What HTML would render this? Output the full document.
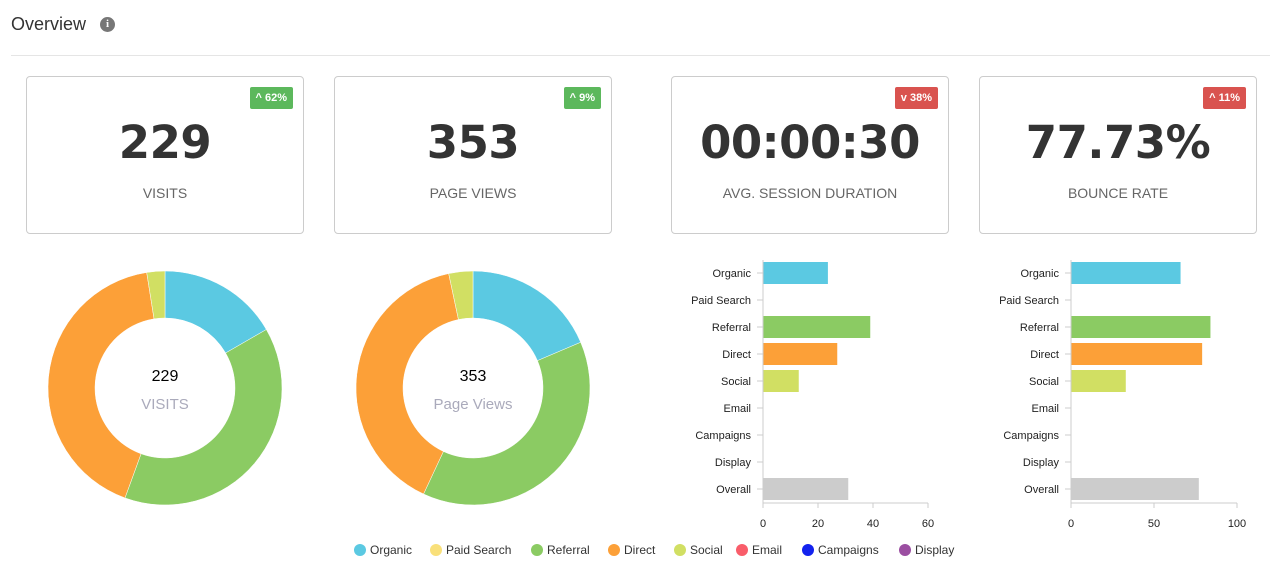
<!DOCTYPE html><html><head><style>
body{margin:0;width:1279px;height:578px;background:#fff;font-family:"Liberation Sans",sans-serif;position:relative;overflow:hidden}
.t{position:absolute;left:11px;top:14px;font-size:18px;color:#333}
.i{position:absolute;left:100px;top:17px;width:15px;height:15px;border-radius:50%;background:#777;color:#fff;font:bold 11px "Liberation Serif",serif;text-align:center;line-height:15px}
.hr{position:absolute;left:11px;right:9px;top:55px;border-top:1px solid #e5e5e5}
.c{position:absolute;top:76px;height:156px;border:1px solid #ccc;border-radius:4px;text-align:center}
.n{position:absolute;top:116px;font:bold 45px "DejaVu Sans",sans-serif;color:#333;text-align:center;letter-spacing:-0.5px}
.l{position:absolute;left:0;right:0;top:108px;font-size:14px;color:#666}
.b{position:absolute;top:10px;right:10px;height:22px;line-height:22px;padding:0 6px;border-radius:2px;color:#fff;font-size:11px;font-weight:bold}
.g{background:#5cb85c}.r{background:#d9534f}
</style></head><body>
<div class="t">Overview</div><div class="i">i</div><div class="hr"></div>
<div class="c" style="left:26px;width:276px"><div class="b g">^ 62%</div><div class="l">VISITS</div></div>
<div class="c" style="left:334px;width:276px"><div class="b g">^ 9%</div><div class="l">PAGE VIEWS</div></div>
<div class="c" style="left:671px;width:276px"><div class="b r">v 38%</div><div class="l">AVG. SESSION DURATION</div></div>
<div class="c" style="left:979px;width:276px"><div class="b r">^ 11%</div><div class="l">BOUNCE RATE</div></div>
<div class="n" style="left:26px;width:278px">229</div>
<div class="n" style="left:334px;width:278px">353</div>
<div class="n" style="left:671px;width:278px">00:00:30</div>
<div class="n" style="left:979px;width:278px">77.73%</div>
<svg width="1279" height="578" style="position:absolute;left:0;top:0" font-family="Liberation Sans,sans-serif">
<g id="d1"></g>
<text x="165" y="381" text-anchor="middle" font-size="16" fill="#000">229</text>
<text x="165" y="409" text-anchor="middle" font-size="15" fill="#aab">VISITS</text>
<text x="473" y="381" text-anchor="middle" font-size="16" fill="#000">353</text>
<text x="473" y="409" text-anchor="middle" font-size="15" fill="#aab">Page Views</text>
<g id="bars" font-size="11" fill="#222"></g>
<g font-size="12" fill="#333">
<circle cx="360" cy="550" r="6" fill="#5bc9e2"/><text x="370" y="554">Organic</text>
<circle cx="436" cy="550" r="6" fill="#f9e07a"/><text x="446" y="554">Paid Search</text>
<circle cx="537" cy="550" r="6" fill="#8bcb63"/><text x="547" y="554">Referral</text>
<circle cx="614" cy="550" r="6" fill="#fca038"/><text x="624" y="554">Direct</text>
<circle cx="680" cy="550" r="6" fill="#d1df63"/><text x="690" y="554">Social</text>
<circle cx="742" cy="550" r="6" fill="#f95d6a"/><text x="752" y="554">Email</text>
<circle cx="808" cy="550" r="6" fill="#1322ee"/><text x="818" y="554">Campaigns</text>
<circle cx="905" cy="550" r="6" fill="#9b4ea1"/><text x="915" y="554">Display</text>
</g>
</svg>
<script>
const NS="http://www.w3.org/2000/svg";
function arc(cx,cy,R,r,a0,a1,col){const f=a=>[Math.sin(a*Math.PI/180),-Math.cos(a*Math.PI/180)];const [s0,c0]=f(a0),[s1,c1]=f(a1);const lg=a1-a0>180?1:0;
const d=`M${cx+R*s0},${cy+R*c0}A${R},${R} 0 ${lg} 1 ${cx+R*s1},${cy+R*c1}L${cx+r*s1},${cy+r*c1}A${r},${r} 0 ${lg} 0 ${cx+r*s0},${cy+r*c0}Z`;
const p=document.createElementNS(NS,"path");p.setAttribute("d",d);p.setAttribute("fill",col);p.setAttribute("stroke","#fff");p.setAttribute("stroke-width","0.5");document.getElementById("d1").appendChild(p);}
const C=["#5bc9e2","#8bcb63","#fca038","#d1df63"];
[[165,[0,60,200,351,360]],[473,[0,67,205,348,360]]].forEach(([cx,a])=>{for(let i=0;i<4;i++)arc(cx,388,117,70,a[i],a[i+1],C[i]);});
const labs=["Organic","Paid Search","Referral","Direct","Social","Email","Campaigns","Display","Overall"];
const bc=["#5bc9e2","","#8bcb63","#fca038","#d1df63","","","","#ccc"];
const g=document.getElementById("bars");let h="";
[[763,2.75,[23.6,0,39,27,13,0,0,0,31],[0,20,40,60]],[1071,1.66,[66,0,84,79,33,0,0,0,77],[0,50,100]]].forEach(([x0,k,v,t])=>{
labs.forEach((l,i)=>{const y=273+27*i;h+=`<text x="${x0-12}" y="${y+4}" text-anchor="end">${l}</text><line x1="${x0-6}" x2="${x0}" y1="${y}" y2="${y}" stroke="#ccc"/>`;
if(v[i])h+=`<rect x="${x0}" y="${y-11}" width="${v[i]*k}" height="22" fill="${bc[i]}"/>`;});
h+=`<line x1="${x0}" x2="${x0}" y1="260" y2="503" stroke="#ccc"/><line x1="${x0}" x2="${x0+t[t.length-1]*k}" y1="503" y2="503" stroke="#ccc"/>`;
t.forEach(n=>{const x=x0+n*k;h+=`<line x1="${x}" x2="${x}" y1="503" y2="508" stroke="#ccc"/><text x="${x}" y="527" text-anchor="middle">${n}</text>`;});});
g.innerHTML=h;
</script>
</body></html>
